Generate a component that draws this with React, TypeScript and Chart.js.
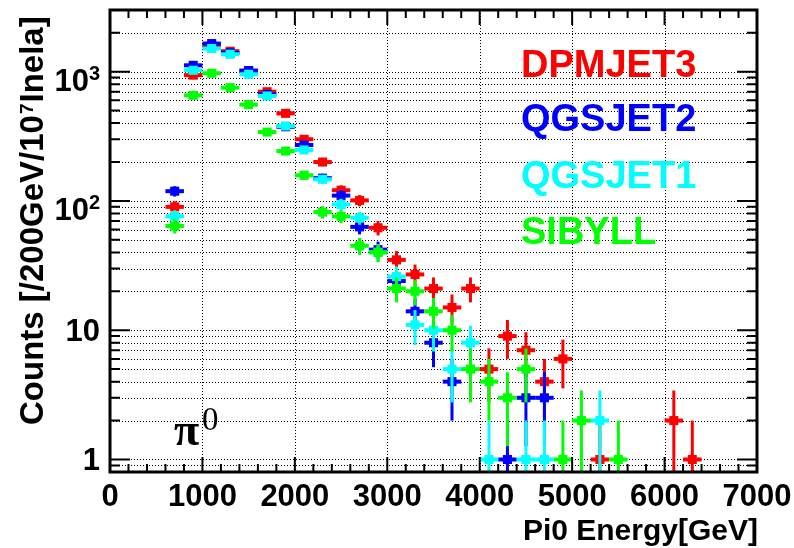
import React, { useEffect, useRef } from 'react';
import { Chart, registerables } from 'chart.js';

Chart.register(...registerables);

// ---------- data ----------
const binCenters = [700, 900, 1100, 1300, 1500, 1700, 1900, 2100, 2300, 2500, 2700, 2900, 3100, 3300, 3500, 3700, 3900, 4100, 4300, 4500, 4700, 4900, 5100, 5300, 5500, 5700, 5900, 6100, 6300];
const binHalfWidth = 100;

const dpmjet3 = [90, 940, 1600, 1440, 1010, 700, 476, 300, 200, 121, 101, 62, 35, 27, 21, 15, 21, 5, 9, 7, 4, 6, null, 1, null, null, null, 2, 1];
const qgsjet2 = [119, 1120, 1650, 1400, 1020, 668, 375, 271, 150, 110, 63, 42, 24, 14, 8, 4, null, null, 1, 3, 3, null, null, null, null, null, null, null, null];
const qgsjet1 = [76, 1025, 1510, 1364, 955, 649, 380, 248, 147, 94, 74, 40, 26, 11, 10, 5, 8, 1, null, 1, 1, null, null, 2, null, null, null, null, null];
const sibyll = [64, 656, 972, 753, 556, 341, 243, 158, 82, 76, 45, 40, 21, 20, 14, 10, 5, 4, 3, 5, null, 1, 2, null, 1, null, null, null, null];

const seriesNames = ['DPMJET3', 'QGSJET2', 'QGSJET1', 'SIBYLL'];
const seriesColors = ['#ff0000', '#0000ff', '#00ffff', '#00ff00'];

const xTickValues = [0, 1000, 2000, 3000, 4000, 5000, 6000, 7000];
const xTickLabels = ['0', '1000', '2000', '3000', '4000', '5000', '6000', '7000'];
const xMinorTicks = [200, 400, 600, 800, 1200, 1400, 1600, 1800, 2200, 2400, 2600, 2800, 3200, 3400, 3600, 3800, 4200, 4400, 4600, 4800, 5200, 5400, 5600, 5800, 6200, 6400, 6600, 6800];

const yMajorTicks = [1, 10, 100, 1000];
const yLabelBase = ['1', '10', '10', '10'];
const yLabelExp = ['', '', '2', '3'];
const yMinorTicks = [0.9, 2, 3, 4, 5, 6, 7, 8, 9, 20, 30, 40, 50, 60, 70, 80, 90, 200, 300, 400, 500, 600, 700, 800, 900, 2000];

const xTitle = 'Pi0 Energy[GeV]';
const yTitleA = 'Counts [/200GeV/10';
const yTitleSup = '7';
const yTitleB = 'Inela]';

const SANS = '"Liberation Sans", Arial, Helvetica, sans-serif';
const SERIF = '"Liberation Serif", "Times New Roman", serif';

const seriesData = [dpmjet3, qgsjet2, qgsjet1, sibyll];

function makeDatasets() {
  return seriesData.map((vals, si) => ({
    label: seriesNames[si],
    data: binCenters
      .map((x, i) => ({ x, y: vals[i] }))
      .filter((p) => p.y !== null && p.y !== undefined),
    backgroundColor: seriesColors[si],
    borderColor: seriesColors[si],
    pointStyle: 'rect',
    pointRadius: 6.4,
    borderWidth: 0,
    showLine: false,
    order: 4 - si,
  }));
}

const rootStyle = {
  id: 'rootStyle',
  beforeDatasetsDraw(chart: any) {
    const { ctx, chartArea: a } = chart;
    const xs = chart.scales.x;
    const ys = chart.scales.y;
    ctx.save();
    ctx.strokeStyle = '#000';
    ctx.lineWidth = 1;
    ctx.setLineDash([1, 2]);
    xTickValues.forEach((v) => {
      if (v <= 0 || v >= 7000) return;
      const px = Math.round(xs.getPixelForValue(v)) + 0.5;
      ctx.beginPath();
      ctx.moveTo(px, a.top);
      ctx.lineTo(px, a.bottom);
      ctx.stroke();
    });
    [...yMajorTicks, ...yMinorTicks].forEach((v) => {
      const py = Math.round(ys.getPixelForValue(v)) + 0.5;
      ctx.beginPath();
      ctx.moveTo(a.left, py);
      ctx.lineTo(a.right, py);
      ctx.stroke();
    });
    ctx.restore();
  },
  beforeDatasetDraw(chart: any, args: any) {
    const { ctx, chartArea: a } = chart;
    const xs = chart.scales.x;
    const ys = chart.scales.y;
    const ds = chart.data.datasets[args.index];
    ctx.save();
    ctx.beginPath();
    ctx.rect(a.left, a.top, a.right - a.left, a.bottom - a.top);
    ctx.clip();
    ctx.strokeStyle = ds.borderColor;
    ds.data.forEach((p: any) => {
      const err = Math.sqrt(p.y);
      const px = xs.getPixelForValue(p.x);
      const py = ys.getPixelForValue(p.y);
      const x0 = xs.getPixelForValue(p.x - binHalfWidth);
      const x1 = xs.getPixelForValue(p.x + binHalfWidth);
      const yTop = ys.getPixelForValue(p.y + err);
      const lo = p.y - err;
      const yBot = lo > 0 ? ys.getPixelForValue(lo) : a.bottom + 20;
      ctx.lineWidth = 4;
      ctx.beginPath();
      ctx.moveTo(x0, py);
      ctx.lineTo(x1, py);
      ctx.stroke();
      ctx.lineWidth = 3;
      ctx.beginPath();
      ctx.moveTo(px, yTop);
      ctx.lineTo(px, yBot);
      ctx.stroke();
    });
    ctx.restore();
  },
  afterDatasetsDraw(chart: any) {
    const { ctx, chartArea: a } = chart;
    const xs = chart.scales.x;
    const ys = chart.scales.y;
    ctx.save();
    ctx.setLineDash([]);
    ctx.strokeStyle = '#000';
    ctx.lineWidth = 2;
    const xt = (v: number, len: number) => {
      const px = xs.getPixelForValue(v);
      ctx.beginPath();
      ctx.moveTo(px, a.bottom);
      ctx.lineTo(px, a.bottom - len);
      ctx.moveTo(px, a.top);
      ctx.lineTo(px, a.top + len);
      ctx.stroke();
    };
    xTickValues.forEach((v) => xt(v, 15));
    xMinorTicks.forEach((v) => xt(v, 8));
    const yt = (v: number, len: number) => {
      const py = ys.getPixelForValue(v);
      ctx.beginPath();
      ctx.moveTo(a.left, py);
      ctx.lineTo(a.left + len, py);
      ctx.moveTo(a.right, py);
      ctx.lineTo(a.right - len, py);
      ctx.stroke();
    };
    yMajorTicks.forEach((v) => yt(v, 20));
    yMinorTicks.forEach((v) => yt(v, 10));
    ctx.lineWidth = 3;
    ctx.strokeRect(a.left, a.top, a.right - a.left, a.bottom - a.top);

    // x tick labels
    ctx.fillStyle = '#000';
    ctx.font = `bold 31px ${SANS}`;
    ctx.textAlign = 'center';
    ctx.textBaseline = 'alphabetic';
    xTickValues.forEach((v, i) => {
      ctx.fillText(xTickLabels[i], xs.getPixelForValue(v), 506);
    });
    // y tick labels
    ctx.textAlign = 'right';
    yMajorTicks.forEach((v, i) => {
      const py = ys.getPixelForValue(v);
      const right = a.left - 10;
      if (yLabelExp[i]) {
        ctx.font = `bold 20px ${SANS}`;
        const w = ctx.measureText(yLabelExp[i]).width;
        ctx.fillText(yLabelExp[i], right, py + 8);
        ctx.font = `bold 31px ${SANS}`;
        ctx.fillText(yLabelBase[i], right - w, py + 19);
      } else {
        ctx.font = `bold 31px ${SANS}`;
        ctx.fillText(yLabelBase[i], right, py + 11);
      }
    });
    // x title
    ctx.font = `bold 30px ${SANS}`;
    ctx.textAlign = 'right';
    ctx.fillText(xTitle, a.right + 1, 540);
    // y title
    ctx.save();
    ctx.translate(43, 425);
    ctx.rotate(-Math.PI / 2);
    ctx.textAlign = 'left';
    ctx.font = `bold 33px ${SANS}`;
    ctx.fillText(yTitleA, 0, 0);
    let off = ctx.measureText(yTitleA).width;
    ctx.font = `bold 19px ${SANS}`;
    ctx.fillText(yTitleSup, off + 1, -10);
    off += ctx.measureText(yTitleSup).width + 2;
    ctx.font = `bold 33px ${SANS}`;
    ctx.fillText(yTitleB, off, 0);
    ctx.restore();

    // model labels
    const baselines = [77, 131, 188, 244];
    ctx.font = `bold 38px ${SANS}`;
    ctx.textAlign = 'left';
    seriesNames.forEach((n, i) => {
      ctx.fillStyle = seriesColors[i];
      ctx.fillText(n, 521, baselines[i]);
    });

    // pi0 label
    ctx.fillStyle = '#000';
    ctx.font = `bold 46px ${SERIF}`;
    ctx.fillText('π', 174, 445);
    ctx.font = `33px ${SERIF}`;
    ctx.fillText('0', 202, 430);
    ctx.restore();
  },
};

export default function App() {
  const ref = useRef<HTMLCanvasElement>(null);
  useEffect(() => {
    document.body.style.margin = '0';
    const canvas = ref.current;
    if (!canvas) return;
    const chart = new Chart(canvas, {
      type: 'scatter',
      data: { datasets: makeDatasets() as any },
      options: {
        animation: false,
        responsive: false,
        devicePixelRatio: 1,
        events: [],
        layout: { padding: { left: 0, right: 37, top: 10, bottom: 0 } },
        plugins: { legend: { display: false }, tooltip: { enabled: false } },
        scales: {
          x: {
            type: 'linear',
            min: 0,
            max: 7000,
            grid: { display: false },
            border: { display: false },
            ticks: { display: false },
            afterFit: (s: any) => {
              s.height = 76;
            },
          },
          y: {
            type: 'logarithmic',
            min: 0.8,
            max: 3000,
            grid: { display: false },
            border: { display: false },
            ticks: { display: false },
            afterFit: (s: any) => {
              s.width = 110;
            },
          },
        },
      } as any,
      plugins: [rootStyle as any],
    });
    return () => chart.destroy();
  }, []);
  return (
    <canvas
      ref={ref}
      width={794}
      height={548}
      style={{ display: 'block', width: 794, height: 548 }}
    />
  );
}
